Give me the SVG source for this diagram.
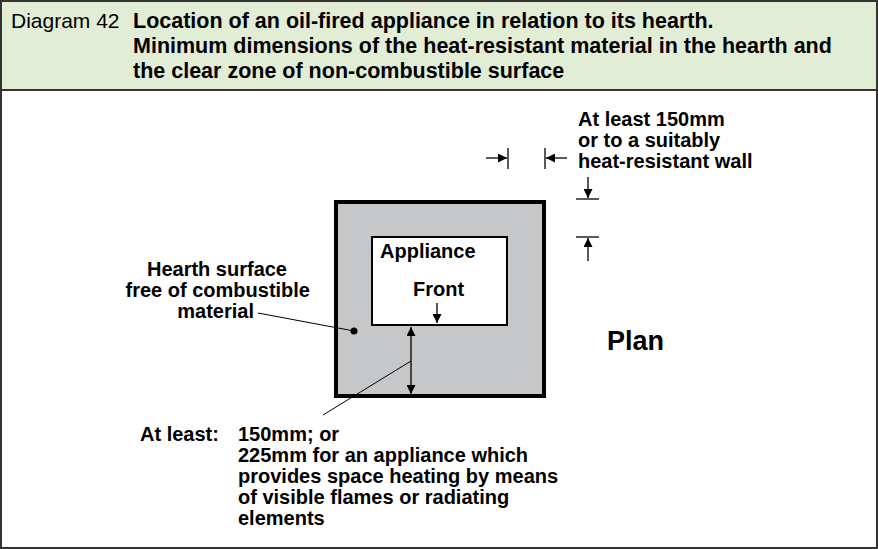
<svg xmlns="http://www.w3.org/2000/svg" width="878" height="549" viewBox="0 0 878 549">
<style>
text{font-family:"Liberation Sans",Arial,sans-serif;font-size:20px;fill:#000}
.b{font-weight:bold}
.t{font-size:21.5px}
.ln{stroke:#000;stroke-width:1.3;fill:none}
.th{stroke:#000;stroke-width:1;fill:none}
</style>
<defs>
<marker id="ah" viewBox="0 0 10 10" refX="10" refY="5" markerWidth="9" markerHeight="9" markerUnits="userSpaceOnUse" orient="auto-start-reverse"><path d="M0,0L10,5L0,10z" fill="#000"/></marker>
</defs>
<rect x="0" y="0" width="878" height="90" fill="#e2edd6"/>
<rect x="1" y="1" width="876" height="547" fill="none" stroke="#333" stroke-width="2"/>
<line x1="0" y1="90" x2="878" y2="90" stroke="#333" stroke-width="2"/>
<g id="title">
<text class="t" x="11" y="28" style="font-size:21px">Diagram 42</text>
<text class="b t" x="133" y="28">Location of an oil-fired appliance in relation to its hearth.</text>
<text class="b t" x="133" y="53">Minimum dimensions of the heat-resistant material in the hearth and</text>
<text class="b t" x="133" y="78">the clear zone of non-combustible surface</text>
</g>
<g id="hearth"><rect x="336" y="202" width="208" height="194" fill="#c6c7c9" stroke="#000" stroke-width="4"/></g>
<g id="appliance"><rect x="372" y="237" width="135" height="88" fill="#fff" stroke="#000" stroke-width="2"/>
<text class="b" x="380" y="258">Appliance</text>
<text class="b" x="413" y="296">Front</text></g>
<g id="labels">
<text class="b" x="287" y="276" text-anchor="end">Hearth surface</text>
<text class="b" x="310" y="297" text-anchor="end">free of combustible</text>
<text class="b" x="254" y="318" text-anchor="end">material</text>
<text class="b" x="140" y="441">At least:</text>
<text class="b" x="238" y="441">150mm; or</text>
<text class="b" x="238" y="462">225mm for an appliance which</text>
<text class="b" x="238" y="483">provides space heating by means</text>
<text class="b" x="238" y="504">of visible flames or radiating</text>
<text class="b" x="238" y="525">elements</text>
<text class="b" x="578" y="126">At least 150mm</text>
<text class="b" x="578" y="147">or to a suitably</text>
<text class="b" x="578" y="168">heat-resistant wall</text>
<text class="b" x="607" y="350" style="font-size:27px">Plan</text>
</g>
<g id="connectors">
<line class="th" x1="258" y1="313" x2="354" y2="331"/>
<circle cx="354" cy="331" r="3.5" fill="#000"/>
<line class="ln" x1="437" y1="303" x2="437" y2="323" marker-end="url(#ah)"/>
<line class="ln" x1="411" y1="327" x2="411" y2="394" marker-start="url(#ah)" marker-end="url(#ah)"/>
<line class="th" x1="411" y1="361" x2="323" y2="415"/>
<line class="ln" x1="486" y1="158" x2="507" y2="158" marker-end="url(#ah)"/>
<line class="ln" x1="508" y1="148" x2="508" y2="169"/>
<line class="ln" x1="567" y1="158" x2="546" y2="158" marker-end="url(#ah)"/>
<line class="ln" x1="545" y1="148" x2="545" y2="169"/>
<line class="ln" x1="588" y1="177" x2="588" y2="198" marker-end="url(#ah)"/>
<line class="ln" x1="576" y1="199" x2="599" y2="199"/>
<line class="ln" x1="588" y1="261" x2="588" y2="238" marker-end="url(#ah)"/>
<line class="ln" x1="576" y1="237" x2="599" y2="237"/>
</g>
</svg>
